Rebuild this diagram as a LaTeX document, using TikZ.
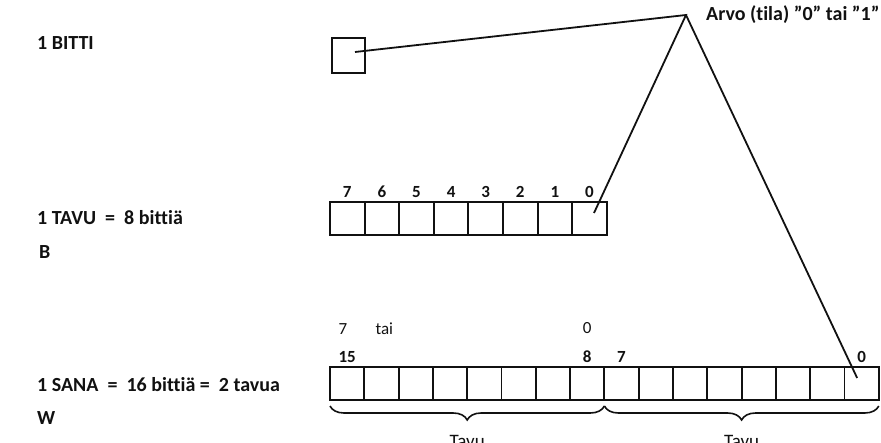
\documentclass[tikz,border=0pt]{standalone}
\usepackage{fontspec}
\setmainfont{Carlito}[Ligatures=NoCommon]
\usetikzlibrary{
  positioning,
  calc,
  decorations.pathreplacing
}
\definecolor{bitInk}{HTML}{111111}
\tikzset{
  bitcell/.style={
    draw=bitInk, line width=1.9pt, minimum width=34.6pt, minimum height=33pt,
    inner sep=0pt, outer sep=0pt
  },
  wordcell/.style={bitcell, minimum width=34.3pt},
  onebit/.style={bitcell, minimum width=33pt, minimum height=35pt},
  sizelabel/.style={font=\fontsize{20}{22}\selectfont\bfseries, anchor=west, inner sep=0pt, text=bitInk},
  bitnum/.style={font=\fontsize{17}{19}\selectfont\bfseries, inner sep=0pt, text=bitInk},
  plainnum/.style={bitnum, font=\fontsize{17}{19}\selectfont},
  tavulabel/.style={font=\fontsize{19}{21}\selectfont, inner sep=0pt, text=bitInk},
  valline/.style={line width=1.8pt, bitInk},
  bytebrace/.style={decorate, decoration={brace, amplitude=14pt, mirror}, line width=1.6pt, bitInk}
}

\begin{document}
\begin{tikzpicture}[x=1pt, y=-1pt, node distance=4pt]
  \useasboundingbox (0,0) rectangle (881,443);

  % left column
  \node[sizelabel] (lbit) at (37,43) {1 BITTI};
  \node[sizelabel] (lbyte) at (37,218) {1 TAVU \ = \ 8 bittiä};
  \node[sizelabel] (lb) at (39,252) {B};
  \node[sizelabel] (lword) at (37,385) {1 SANA \ = \ 16 bittiä = \ 2 tavua};
  \node[sizelabel] (lw) at (37,418) {W};

  % one bit
  \node[onebit] (bit) at (348.5,55.5) {};
  \coordinate (apex) at (686,15);
  \node[sizelabel, right=20pt of apex] (value) {Arvo (tila) ”0” tai ”1”};

  % byte
  \foreach \i in {0,...,7} {
    \node[bitcell] (byte\i) at ({347.3+34.6*(7-\i)},218.5) {};
    \node[bitnum, above=of byte\i] (bn\i) {\i};
  }

  % word
  \foreach \i in {0,...,15}
    \node[wordcell] (word\i) at ({347.15+34.3*(15-\i)},383.5) {};
  \node[bitnum, above=of word15] (wn15) {15};
  \node[bitnum, above=of word8] (wn8) {8};
  \node[bitnum, above=of word7] (wn7) {7};
  \node[bitnum, above=of word0] (wn0) {0};
  \node[plainnum, anchor=south west] (hi7) at ([yshift=17pt]wn15.north west) {7};
  \node[plainnum, right=28pt of hi7] (tai) {tai};
  \node[plainnum, above=17pt of wn8] (hi0) {0};

  % connectors to the value
  \draw[valline] ([xshift=6.5pt,yshift=3.5pt]bit.center) -- (apex)
    -- ([xshift=4.5pt,yshift=5.5pt]byte0.center);
  \draw[valline] (apex) -- ([xshift=-4.5pt,yshift=5.5pt]word0.center);

  % bytes of the word
  \draw[bytebrace] ([yshift=-6pt]word15.south west) -- ([yshift=-6pt]word8.south east);
  \draw[bytebrace] ([yshift=-6pt]word7.south west) -- ([yshift=-6pt]word0.south east);
  \coordinate (himid) at ($(word15.south west)!0.5!(word8.south east)$);
  \coordinate (lomid) at ($(word7.south west)!0.5!(word0.south east)$);
  \node[tavulabel, below=35pt of himid] (tavuhi) {Tavu};
  \node[tavulabel, below=35pt of lomid] (tavulo) {Tavu};
\end{tikzpicture}
\end{document}
